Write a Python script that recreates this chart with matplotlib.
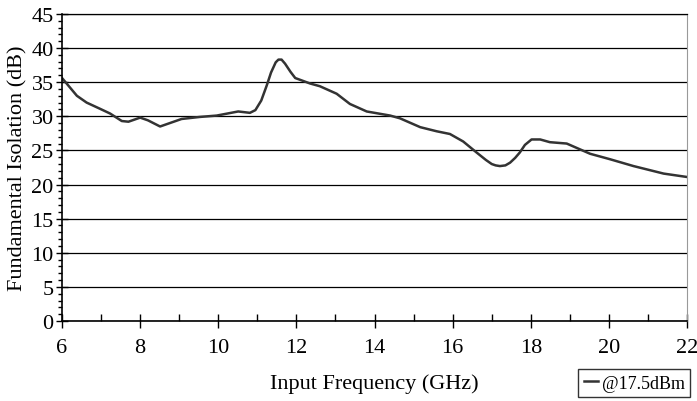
import matplotlib
matplotlib.use("Agg")
import matplotlib.pyplot as plt
from matplotlib.ticker import MultipleLocator

plt.rcParams["font.family"] = ["Liberation Serif", "DejaVu Serif"]

# isolation curve
freq_ghz = [6.0, 6.38, 6.63, 6.97, 7.23, 7.53, 7.70, 8.0, 8.2, 8.51, 8.76, 9.06, 9.53, 9.96,
            10.51, 10.81, 10.95, 11.1, 11.24, 11.35, 11.47, 11.54, 11.62, 11.71, 11.85, 11.97,
            12.35, 12.6, 13.03, 13.37, 13.8, 14.4, 14.65, 15.17, 15.59, 15.93, 16.27, 16.61,
            16.85, 17.0, 17.1, 17.21, 17.35, 17.47, 17.6, 17.72, 17.85, 18.02, 18.24, 18.49,
            18.92, 19.52, 20.03, 20.63, 21.40, 22.0]
isolation_db = [35.6, 33.0, 32.0, 31.1, 30.4, 29.3, 29.2, 29.8, 29.4, 28.5, 29.0, 29.6, 29.9, 30.1,
                30.7, 30.5, 30.9, 32.3, 34.5, 36.4, 37.9, 38.3, 38.3, 37.7, 36.5, 35.6,
                34.8, 34.4, 33.3, 31.8, 30.7, 30.1, 29.7, 28.4, 27.8, 27.4, 26.3, 24.7,
                23.6, 23.0, 22.8, 22.7, 22.8, 23.2, 23.9, 24.7, 25.8, 26.6, 26.6, 26.2,
                26.0, 24.5, 23.7, 22.7, 21.6, 21.1]
series_label = "@17.5dBm"

fig = plt.figure(figsize=(6.97, 4.02), dpi=100)
ax = fig.add_axes([0.089, 0.199, 0.8967, 0.764])

ax.plot(freq_ghz, isolation_db, color="#333333", lw=1.8, label=series_label)

ax.set_xlim(6, 22)
ax.set_ylim(0, 45)
ax.xaxis.set_major_locator(MultipleLocator(2))
ax.xaxis.set_minor_locator(MultipleLocator(1))
ax.yaxis.set_major_locator(MultipleLocator(5))
ax.yaxis.set_minor_locator(MultipleLocator(1))
ax.yaxis.grid(True, color="black", lw=0.9)
ax.set_axisbelow(True)

ax.tick_params(axis="x", which="major", direction="inout", length=10, width=1, labelsize=16, pad=7)
ax.tick_params(axis="x", which="minor", direction="in", length=5, width=1)
ax.tick_params(axis="y", which="major", direction="inout", length=8, width=1, labelsize=16, pad=2)
ax.tick_params(axis="y", which="minor", direction="out", length=3, width=1)

ax.spines["right"].set_color("#999999")
ax.spines["top"].set_linewidth(0.9)
ax.spines["left"].set_linewidth(1.2)
ax.spines["bottom"].set_linewidth(1.2)

ax.set_xlabel("Input Frequency (GHz)", fontsize=16, labelpad=12)
ax.set_ylabel("Fundamental Isolation (dB)", fontsize=16, labelpad=3)

fig.legend(loc="lower right", bbox_to_anchor=(0.99, 0.01), fontsize=13, frameon=True,
           fancybox=False, edgecolor="black", handlelength=0.8, handletextpad=0.2,
           borderpad=0.3, borderaxespad=0)

fig.savefig("out.png", dpi=100)
